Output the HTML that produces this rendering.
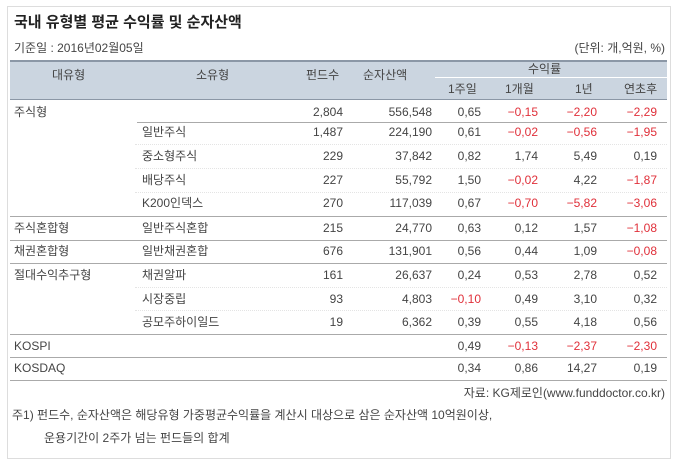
<!DOCTYPE html>
<html><head><meta charset="utf-8"><style>
body{margin:0;width:679px;height:465px;background:#fff;font-family:"Liberation Sans","Noto Sans CJK KR",sans-serif;color:#444;position:relative;overflow:hidden}
.box{position:absolute;left:7px;top:6px;width:662px;height:451px;border:1px solid #ddd}
.t{position:absolute;white-space:nowrap;font-size:12px;line-height:14px}
.r{text-align:right}
.red{color:#e0303a}
.hl{position:absolute;left:10px;width:657px;height:0;border-top:1px solid #aaa}
.dl{position:absolute;left:135px;width:532px;height:0;border-top:1px dotted #e4e4e4}
</style></head><body>
<div class="box"></div>
<div class="t" style="left:14px;top:14px;font-size:15px;font-weight:bold;line-height:18px;color:#222">국내 유형별 평균 수익률 및 순자산액</div>
<div class="t" style="left:14px;top:41px">기준일 : 2016년02월05일</div>
<div class="t" style="right:14px;top:41px">(단위: 개,억원, %)</div>
<div style="position:absolute;left:10px;top:60px;width:657px;height:40px;background:#cbd5e0;border-top:2px solid #8b97a6;border-bottom:1px solid #8b97a6;box-sizing:border-box"></div>
<div style="position:absolute;left:435px;top:77px;width:232px;border-top:1px solid #fff"></div>
<div class="t" style="left:52px;top:68px">대유형</div>
<div class="t" style="left:196px;top:68px">소유형</div>
<div class="t" style="left:306px;top:68px">펀드수</div>
<div class="t" style="left:363px;top:68px">순자산액</div>
<div class="t" style="left:528px;top:62px">수익률</div>
<div class="t" style="left:448px;top:82px">1주일</div>
<div class="t" style="left:505px;top:82px">1개월</div>
<div class="t" style="left:575px;top:82px">1년</div>
<div class="t" style="left:624px;top:82px">연초후</div>
<div id="rows"></div>
<script>
var rows=[
["주식형","","2,804","556,548","0.65","-0.15","-2.20","-2.29",112],
["","일반주식","1,487","224,190","0.61","-0.02","-0.56","-1.95",132],
["","중소형주식","229","37,842","0.82","1.74","5.49","0.19",156],
["","배당주식","227","55,792","1.50","-0.02","4.22","-1.87",180],
["","K200인덱스","270","117,039","0.67","-0.70","-5.82","-3.06",203],
["주식혼합형","일반주식혼합","215","24,770","0.63","0.12","1.57","-1.08",228],
["채권혼합형","일반채권혼합","676","131,901","0.56","0.44","1.09","-0.08",251],
["절대수익추구형","채권알파","161","26,637","0.24","0.53","2.78","0.52",275],
["","시장중립","93","4,803","-0.10","0.49","3.10","0.32",299],
["","공모주하이일드","19","6,362","0.39","0.55","4.18","0.56",322],
["KOSPI","","","","0.49","-0.13","-2.37","-2.30",346],
["KOSDAQ","","","","0.34","0.86","14.27","0.19",368]];
var R=[343,432,481,538,597,657],h="";
rows.forEach(function(r){var y=r[8]-7;
if(r[0])h+='<div class="t" style="left:14px;top:'+y+'px">'+r[0]+'</div>';
if(r[1])h+='<div class="t" style="left:142px;top:'+y+'px">'+r[1]+'</div>';
for(var i=0;i<6;i++){var v=r[2+i];if(!v)continue;h+='<div class="t r'+(v[0]=='-'&&i>1?' red':'')+'" style="right:'+(679-R[i])+'px;top:'+y+'px">'+v.replace('-','−').replace('.',',')+'</div>';}
});
h+='<div class="hl" style="top:122px;left:137px;width:530px"></div>';
[216,240,263,334,357,380].forEach(function(y){h+='<div class="hl" style="top:'+y+'px"></div>'});
[144,168,192,287,310].forEach(function(y){h+='<div class="dl" style="top:'+y+'px"></div>'});
document.getElementById('rows').innerHTML=h;
</script>
<div class="t" style="right:14px;top:386px">자료: KG제로인(www.funddoctor.co.kr)</div>
<div class="t" style="left:12px;top:408px">주1) 펀드수, 순자산액은 해당유형 가중평균수익률을 계산시 대상으로 삼은 순자산액 10억원이상,</div>
<div class="t" style="left:44px;top:431px">운용기간이 2주가 넘는 펀드들의 합계</div>
</body></html>
